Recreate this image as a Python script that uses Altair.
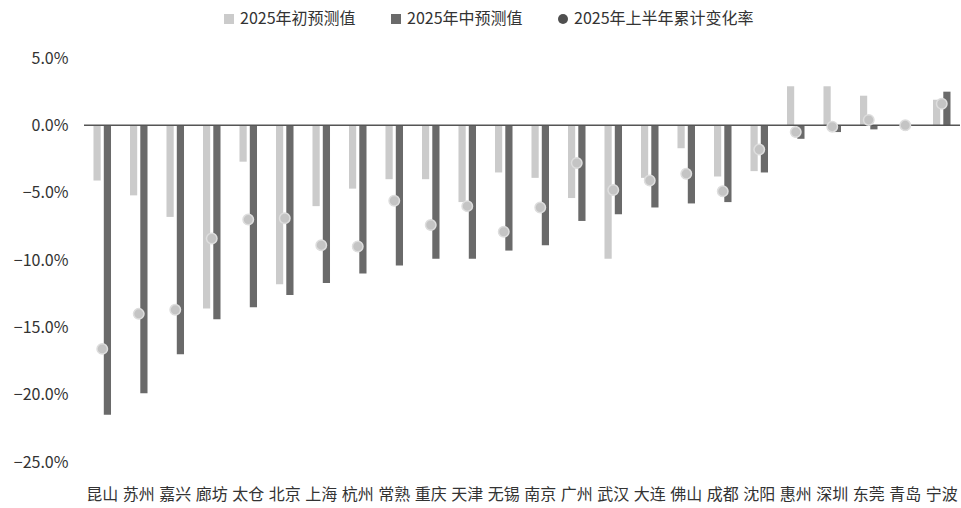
import altair as alt
import pandas as pd

# Cities, ordered as on the category axis
cities = ["昆山", "苏州", "嘉兴", "廊坊", "太仓", "北京", "上海", "杭州", "常熟", "重庆", "天津", "无锡",
          "南京", "广州", "武汉", "大连", "佛山", "成都", "沈阳", "惠州", "深圳", "东莞", "青岛", "宁波"]

# Forecast made at the start of 2025 (%)
early_forecast = [-4.1, -5.2, -6.8, -13.6, -2.7, -11.8, -6.0, -4.7, -4.0, -4.0, -5.7, -3.5,
                  -3.9, -5.4, -9.9, -3.9, -1.7, -3.8, -3.4, 2.9, 2.9, 2.2, 0.0, 1.9]

# Forecast made in mid 2025 (%)
mid_forecast = [-21.5, -19.9, -17.0, -14.4, -13.5, -12.6, -11.7, -11.0, -10.4, -9.9, -9.9, -9.3,
                -8.9, -7.1, -6.6, -6.1, -5.8, -5.7, -3.5, -1.0, -0.5, -0.3, 0.0, 2.5]

# Cumulative change over the first half of 2025 (%)
h1_change = [-16.6, -14.0, -13.7, -8.4, -7.0, -6.9, -8.9, -9.0, -5.6, -7.4, -6.0, -7.9,
             -6.1, -2.8, -4.8, -4.1, -3.6, -4.9, -1.8, -0.5, -0.1, 0.4, 0.0, 1.6]

S_EARLY = "2025年初预测值"
S_MID = "2025年中预测值"
S_H1 = "2025年上半年累计变化率"
series_order = [S_EARLY, S_MID, S_H1]

y_ticks = [5, 0, -5, -10, -15, -20, -25]

bars_df = pd.DataFrame(
    [{"city": c, "series": S_EARLY, "value": v} for c, v in zip(cities, early_forecast)]
    + [{"city": c, "series": S_MID, "value": v} for c, v in zip(cities, mid_forecast)]
)
dots_df = pd.DataFrame({"city": cities, "series": S_H1, "value": h1_change})
zero_df = pd.DataFrame({"value": [0]})

FONT = "Noto Sans CJK SC"
TEXT = "#333333"
LIGHT = "#cbcbcb"
DARK = "#6a6a6a"
DOT = "#c4c4c4"

color_scale = alt.Scale(domain=series_order, range=[LIGHT, DARK, "#4f4f4f"])
shape_scale = alt.Scale(domain=series_order, range=["square", "square", "circle"])

x_enc = alt.X(
    "city:N",
    sort=cities,
    title=None,
    scale=alt.Scale(paddingInner=0.52, paddingOuter=0.26),
    axis=alt.Axis(labelAngle=0, labelFontSize=16, labelColor=TEXT, labelFont=FONT,
                  ticks=False, tickSize=0, domain=False, labelPadding=24),
)
y_enc = alt.Y(
    "value:Q",
    title=None,
    scale=alt.Scale(domain=[-25, 5], nice=False, zero=False),
    axis=alt.Axis(values=y_ticks, labelExpr="format(datum.value, '.1f') + '%'",
                  labelFontSize=16, labelColor=TEXT, labelFont=FONT,
                  ticks=False, tickSize=0, domain=False, grid=False, labelPadding=16),
)

legend = alt.Legend(
    title=None, orient="none", direction="horizontal", legendX=137, legendY=-47,
    labelFontSize=16, labelFont=FONT, labelColor=TEXT, labelLimit=400, symbolSize=100,
    columnPadding=32, labelOffset=3, symbolStrokeWidth=0,
)

bars = alt.Chart(bars_df).mark_bar().encode(
    x=x_enc,
    xOffset=alt.XOffset("series:N", sort=[S_EARLY, S_MID],
                        scale=alt.Scale(domain=[S_EARLY, S_MID], paddingInner=0.3, paddingOuter=0)),
    y=y_enc,
    color=alt.Color("series:N", scale=color_scale, legend=legend),
)

zero_line = alt.Chart(zero_df).mark_rule(color="#555555", strokeWidth=1.5).encode(y="value:Q")

# Dark dots carry the legend entry; the light dots drawn over them are the visible markers
dots_key = alt.Chart(dots_df).mark_point(filled=True, size=110, opacity=1).encode(
    x=alt.X("city:N", sort=cities),
    y="value:Q",
    color=alt.Color("series:N", scale=color_scale, legend=legend),
    shape=alt.Shape("series:N", scale=shape_scale, legend=legend),
)
dots = alt.Chart(dots_df).mark_point(
    filled=True, size=110, fill=DOT, stroke="#dedede", strokeWidth=1.5, opacity=1
).encode(
    x=alt.X("city:N", sort=cities),
    y="value:Q",
)

chart = (
    alt.layer(bars, zero_line, dots_key, dots)
    .properties(
        width=876,
        height=404,
        autosize=alt.AutoSizeParams(type="none"),
        padding={"left": 84, "top": 58, "right": 1, "bottom": 46},
        background="white",
    )
    .configure_view(stroke=None)
)

chart.save("out.html", embed_options={"renderer": "svg", "actions": False})
